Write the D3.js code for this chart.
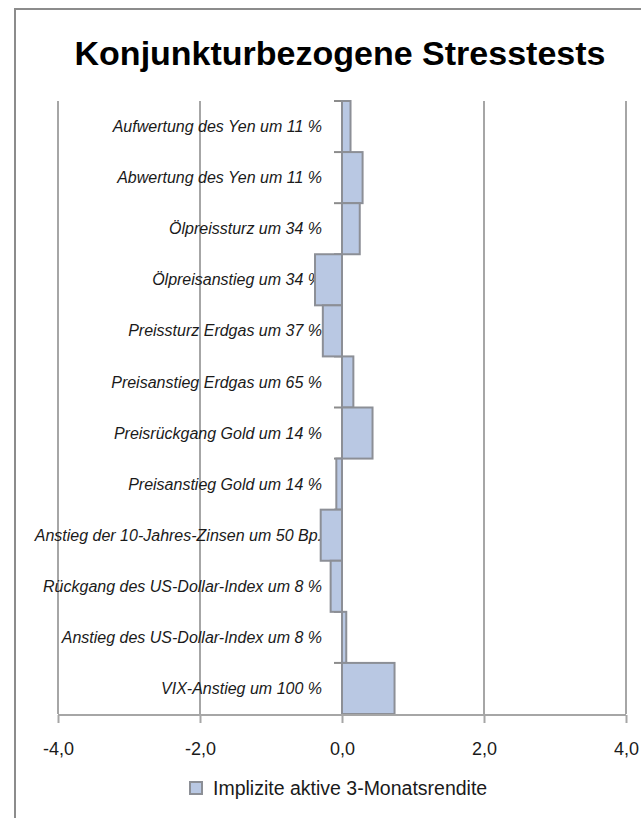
<!DOCTYPE html>
<html>
<head>
<meta charset="utf-8">
<script src="https://cdn.jsdelivr.net/npm/d3@7"></script>
<style>
  body { margin: 0; background: #fff; }
  svg { display: block; font-family: "Liberation Sans", Arial, sans-serif; }
</style>
</head>
<body>
<div id="chart"></div>
<script>
// Szenarien (von oben nach unten) und implizite aktive 3-Monatsrendite
let scenarios = [
  "Aufwertung des Yen um 11 %",
  "Abwertung des Yen um 11 %",
  "Ölpreissturz um 34 %",
  "Ölpreisanstieg um 34 %",
  "Preissturz Erdgas um 37 %",
  "Preisanstieg Erdgas um 65 %",
  "Preisrückgang Gold um 14 %",
  "Preisanstieg Gold um 14 %",
  "Anstieg der 10-Jahres-Zinsen um 50 Bp.",
  "Rückgang des US-Dollar-Index um 8 %",
  "Anstieg des US-Dollar-Index um 8 %",
  "VIX-Anstieg um 100 %"
]
let returns = [0.12, 0.29, 0.25, -0.38, -0.27, 0.16, 0.43, -0.08, -0.30, -0.16, 0.06, 0.74]
let xTicks = [-4, -2, 0, 2, 4]
let seriesName = "Implizite aktive 3-Monatsrendite"
let title = "Konjunkturbezogene Stresstests"

let W = 641, H = 818
let margin = { top: 101, left: 58, right: 15, bottom: 102 }
let width = W - margin.left - margin.right,
    height = H - margin.top - margin.bottom

let svg = d3.select("#chart").append("svg")
  .attr("width", W).attr("height", H)

// Rahmen des Diagrammbereichs
svg.append("path")
  .attr("d", "M15," + H + "V9H" + W)
  .attr("fill", "none").attr("stroke", "#8c8c8c").attr("stroke-width", 2)

svg.append("text")
  .attr("x", 340).attr("y", 65)
  .attr("text-anchor", "middle")
  .attr("font-size", 34).attr("font-weight", "bold").attr("fill", "#000")
  .text(title)

let g = svg.append("g").attr("transform", "translate(" + margin.left + "," + margin.top + ")")

let x = d3.scaleLinear().domain([-4, 4]).range([0, 568])
let y = d3.scaleBand().domain(scenarios).range([0, height - 2]).padding(0)

// Gitterlinien
g.append("g").selectAll("line").data(xTicks).enter().append("line")
  .attr("x1", d => x(d)).attr("x2", d => x(d))
  .attr("y1", 0).attr("y2", height - 2)
  .attr("stroke", "#a6a6a6").attr("stroke-width", 2)

// Beschriftungen der Szenarien
g.append("g").selectAll("text").data(scenarios).enter().append("text")
  .attr("x", x(0) - 20)
  .attr("y", d => y(d) + y.bandwidth() / 2)
  .attr("dy", "0.35em")
  .attr("text-anchor", "end")
  .attr("font-size", 16).attr("font-style", "italic").attr("fill", "#1a1a1a")
  .text(d => d)

// Kategorie-Achse an der Nulllinie (Teilstriche nach links)
let yAxis = g.append("g").attr("transform", "translate(" + x(0) + ",0)")
  .call(d3.axisLeft(y).tickSize(0).tickFormat(""))
yAxis.select(".domain").remove()
yAxis.selectAll(".bound").data(scenarios).enter().append("line")
  .attr("x1", -8).attr("x2", 0)
  .attr("y1", d => y(d)).attr("y2", d => y(d))
  .attr("stroke", "#8c8c8c").attr("stroke-width", 2)

// Balken
g.append("g").selectAll("rect").data(returns).enter().append("rect")
  .attr("x", d => x(Math.min(0, d)))
  .attr("y", (d, i) => y(scenarios[i]))
  .attr("width", d => Math.abs(x(d) - x(0)))
  .attr("height", y.bandwidth())
  .attr("fill", "#b9c8e3")
  .attr("stroke", "#8c8f96").attr("stroke-width", 2)

// Werteachse unten
let xAxis = g.append("g").attr("transform", "translate(0," + (height - 1) + ")")
  .call(d3.axisBottom(x).tickValues(xTicks).tickSize(8).tickPadding(19)
    .tickFormat(d => d3.format(".1f")(d).replace(".", ",").replace("−", "-")))
xAxis.select(".domain").attr("stroke", "#a6a6a6").attr("stroke-width", 2)
  .attr("d", "M0,0H568")
xAxis.selectAll(".tick line").attr("stroke", "#a6a6a6").attr("stroke-width", 2)
xAxis.selectAll(".tick text")
  .attr("font-size", 18).attr("fill", "#1a1a1a")
  .attr("font-family", "Liberation Sans, Arial, sans-serif")

// Legende
let legend = svg.append("g").attr("transform", "translate(190,782)")
legend.append("rect")
  .attr("width", 12).attr("height", 12)
  .attr("fill", "#b9c8e3").attr("stroke", "#8c8f96").attr("stroke-width", 2)
legend.append("text")
  .attr("x", 23).attr("y", 6).attr("dy", "0.35em")
  .attr("font-size", 19.5).attr("fill", "#1a1a1a")
  .text(seriesName)
</script>
</body>
</html>
